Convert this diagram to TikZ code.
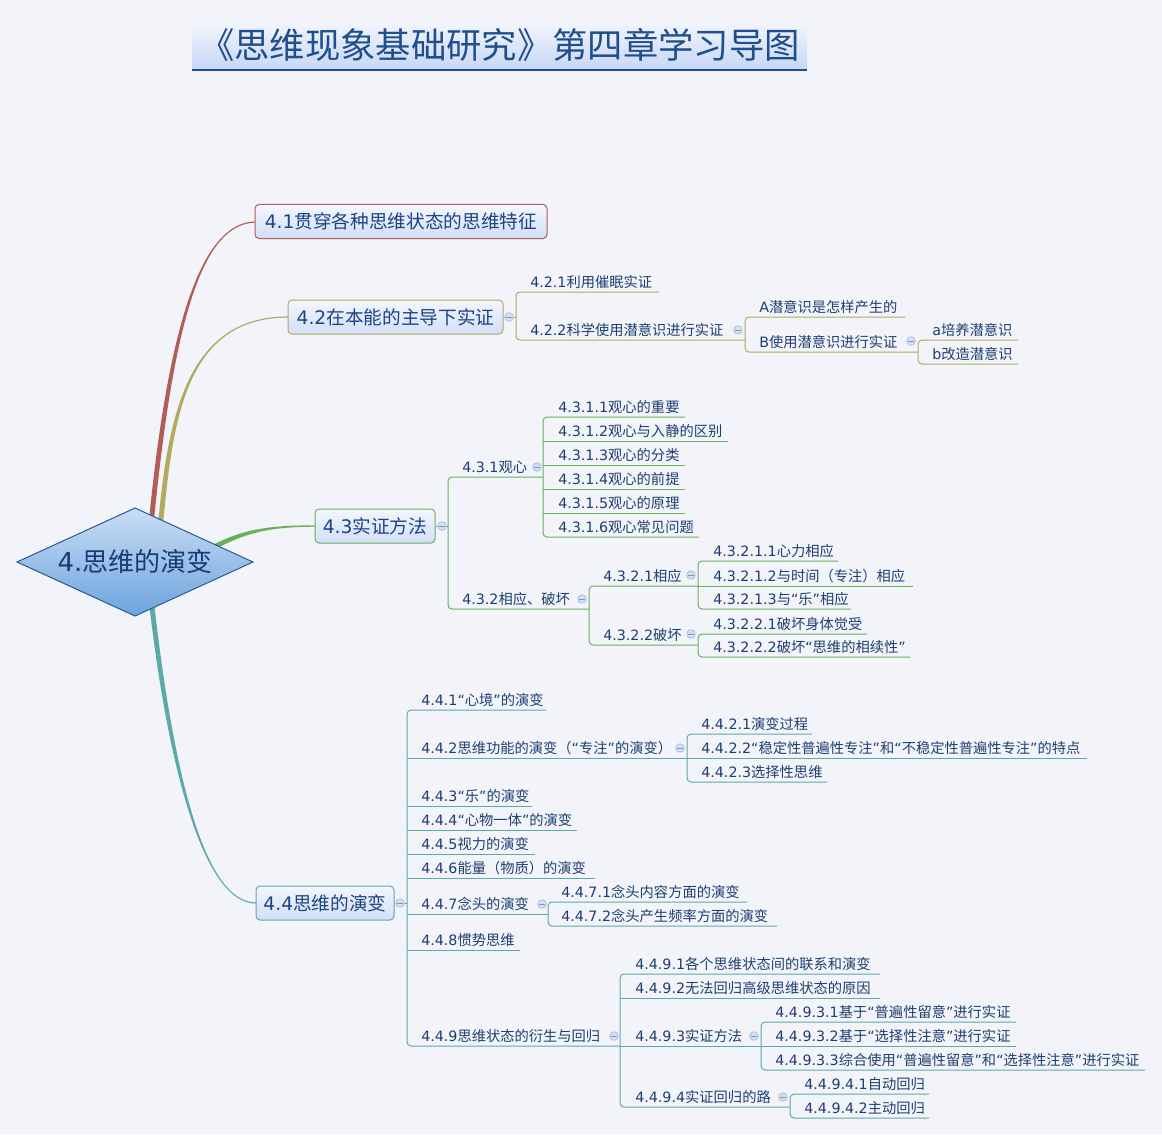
\documentclass[tikz,border=0pt]{standalone}
\usepackage{fontspec}
\setmainfont{DejaVu Sans}
\newfontfamily\latinfont{DejaVu Sans}
\newfontfamily\cjkfont{Noto Sans CJK SC}
\XeTeXinterchartokenstate=1
\newXeTeXintercharclass\CJKcls
\makeatletter
\count@="4E00
\loop \XeTeXcharclass\count@=\CJKcls \advance\count@ by 1 \ifnum\count@<"A000 \repeat
\count@="3000
\loop \XeTeXcharclass\count@=\CJKcls \advance\count@ by 1 \ifnum\count@<"3040 \repeat
\count@="FF00
\loop \XeTeXcharclass\count@=\CJKcls \advance\count@ by 1 \ifnum\count@<"FFF0 \repeat
\makeatother
\XeTeXinterchartoks 0 \CJKcls = {\cjkfont}
\XeTeXinterchartoks \CJKcls 0 = {\latinfont}
\XeTeXinterchartoks 4095 \CJKcls = {\cjkfont}
\XeTeXinterchartoks \CJKcls 4095 = {\latinfont}

\newcommand\subsz{\fontsize{10.7pt}{12pt}\selectfont}
\newcommand\mainsz{\fontsize{14pt}{16pt}\selectfont}
\newcommand\rootsz{\fontsize{19.5pt}{22pt}\selectfont}
\newcommand\titlesz{\fontsize{26.5pt}{30pt}\selectfont}

\definecolor{bg}{HTML}{F3F4FA}
\definecolor{txt}{HTML}{1D3F70}
\definecolor{mtxt}{HTML}{1C4482}
\definecolor{cred}{HTML}{B25D58}
\definecolor{colive}{HTML}{B2AA5E}
\definecolor{cgreen}{HTML}{68B05C}
\definecolor{cteal}{HTML}{5CAAA8}
\definecolor{boxtop}{HTML}{F3F6FD}
\definecolor{boxbot}{HTML}{D2DFF8}
\definecolor{icfill}{HTML}{D3DFF2}
\definecolor{icdraw}{HTML}{A5BCE0}
\definecolor{icminus}{HTML}{7F95BA}
\definecolor{dtop}{HTML}{CADDF4}
\definecolor{dbot}{HTML}{6CA4DE}
\definecolor{dline}{HTML}{2A5A94}
\definecolor{rtxt}{HTML}{163C72}
\definecolor{ttop}{HTML}{F4F6FC}
\definecolor{tbot}{HTML}{C7D7F6}
\definecolor{tline}{HTML}{1F4E8C}

\tikzset{
  sub/.style={anchor=base west, inner sep=0pt, font=\subsz, text=txt},
  mainbox/.style={draw=#1, line width=0.75pt, rounded corners=3pt, top color=boxtop, bottom color=boxbot, inner sep=0pt, font=\mainsz, text=mtxt, minimum height=25.5pt},
  collapse/.style={circle, draw=icdraw, fill=icfill, line width=0.5pt, minimum size=6.5pt, inner sep=0pt,
    path picture={\draw[icminus, line width=0.6pt] ([xshift=-1.9pt]path picture bounding box.center) -- ([xshift=1.9pt]path picture bounding box.center);}},
  tl/.style={draw=#1, line width=0.75pt, rounded corners=3pt},
}
\newcommand\subt[4]{\node[sub] (#1) at (#2,#3-4.5) {#4};}
\newcommand\cic[3]{\node[collapse] (#1) at (#2,#3) {};}

\begin{document}
\begin{tikzpicture}[x=0.75pt,y=-0.75pt]
\useasboundingbox (0,0) rectangle (1162,1134);
\fill[bg] (0,0) rectangle (1162,1134);

% title
\path[top color=ttop, bottom color=tbot] (192,20) rectangle (807,70);
\draw[tline, line width=1.1pt] (192,70) -- (807,70);
\node[font=\titlesz, text=tline, inner sep=0pt] (title) at (499.5,45) {《思维现象基础研究》第四章学习导图};

% main curves
\coordinate (s41) at (151,525);
\coordinate (s42) at (160,530);
\coordinate (s43) at (205,552);
\coordinate (s44) at (151,598);
\fill[cred] (148.5,525) .. controls (167.5,330) and (200,221.4) .. (256,221.4) -- (256,222.6) .. controls (200,222.6) and (172.5,330) .. (153.5,525) -- cycle;
\fill[colive] (157.5,530) .. controls (167.5,420) and (185,316.4) .. (288,316.4) -- (288,317.6) .. controls (185,317.6) and (172.5,420) .. (162.5,530) -- cycle;
\fill[cgreen] (203.8,549.8) .. controls (238.8,529.8) and (265,525.3) .. (316,525.3) -- (316,526.7) .. controls (265,526.7) and (241.2,534.2) .. (206.2,554.2) -- cycle;
\fill[cteal] (148.5,598) .. controls (165.5,750) and (200,903.6) .. (256,903.6) -- (256,902.4) .. controls (200,902.4) and (170.5,750) .. (153.5,598) -- cycle;

% root diamond
\path[draw=dline, line width=0.75pt, top color=dtop, bottom color=dbot] (17,562) -- (135,508) -- (253,562) -- (135,616) -- cycle;
\node[font=\rootsz, text=rtxt, inner sep=0pt] (root) at (135,562) {4.思维的演变};

% ===== 4.1
\node[mainbox=cred, minimum width=219pt] (b41) at (401,221.5) {4.1贯穿各种思维状态的思维特征};

% ===== 4.2
\node[mainbox=colive, minimum width=161.25pt] (b42) at (395.5,317) {4.2在本能的主导下实证};
\draw[tl=colive] (b42.east) -- (516,317);
\draw[tl=colive] (659,292) -- (516,292) -- (516,340) -- (745,340);
\draw[tl=colive] (905,317) -- (745,317) -- (745,352) -- (918,352);
\draw[tl=colive] (1018,340) -- (918,340) -- (918,364) -- (1018,364);
\subt{n421}{530}{292}{4.2.1利用催眠实证}
\subt{n422}{530}{340}{4.2.2科学使用潜意识进行实证}
\subt{nA}{759}{317}{A潜意识是怎样产生的}
\subt{nB}{759}{352}{B使用潜意识进行实证}
\subt{na}{932}{340}{a培养潜意识}
\subt{nb}{932}{364}{b改造潜意识}
\cic{i42}{509}{317}
\cic{i422}{738}{330}
\cic{iB}{911}{341}

% ===== 4.3
\node[mainbox=cgreen, minimum width=90pt] (b43) at (375,526) {4.3实证方法};
\draw[tl=cgreen] (b43.east) -- (448,526);
\draw[tl=cgreen] (543,477) -- (448,477) -- (448,609) -- (589,609);
\draw[tl=cgreen] (685,417) -- (543,417) -- (543,537) -- (699,537);
\draw[tl=cgreen] (543,441) -- (728,441);
\draw[tl=cgreen] (543,465) -- (685,465);
\draw[tl=cgreen] (543,489) -- (685,489);
\draw[tl=cgreen] (543,513) -- (685,513);
\draw[tl=cgreen] (698,586) -- (589,586) -- (589,645) -- (698,645);
\draw[tl=cgreen] (838,561) -- (698,561) -- (698,609) -- (851,609);
\draw[tl=cgreen] (698,586) -- (913,586);
\draw[tl=cgreen] (867,634) -- (698,634) -- (698,657) -- (910,657);
\subt{n431}{462}{477}{4.3.1观心}
\subt{n4311}{558}{417}{4.3.1.1观心的重要}
\subt{n4312}{558}{441}{4.3.1.2观心与入静的区别}
\subt{n4313}{558}{465}{4.3.1.3观心的分类}
\subt{n4314}{558}{489}{4.3.1.4观心的前提}
\subt{n4315}{558}{513}{4.3.1.5观心的原理}
\subt{n4316}{558}{537}{4.3.1.6观心常见问题}
\subt{n432}{462}{609}{4.3.2相应、破坏}
\subt{n4321}{603}{586}{4.3.2.1相应}
\subt{n4322}{603}{645}{4.3.2.2破坏}
\subt{n43211}{713}{561}{4.3.2.1.1心力相应}
\subt{n43212}{713}{586}{4.3.2.1.2与时间（专注）相应}
\subt{n43213}{713}{609}{4.3.2.1.3与“乐”相应}
\subt{n43221}{713}{634}{4.3.2.2.1破坏身体觉受}
\subt{n43222}{713}{657}{4.3.2.2.2破坏“思维的相续性”}
\cic{i43}{442}{526}
\cic{i431}{537}{467}
\cic{i432}{582}{599}
\cic{i4321}{691}{575}
\cic{i4322}{691}{634}

% ===== 4.4
\node[mainbox=cteal, minimum width=103.5pt] (b44) at (325,903) {4.4思维的演变};
\draw[tl=cteal] (b44.east) -- (407,903);
\draw[tl=cteal] (546,710) -- (407,710) -- (407,1046) -- (620,1046);
\draw[tl=cteal] (407,758) -- (687,758);
\draw[tl=cteal] (407,806) -- (532,806);
\draw[tl=cteal] (407,830) -- (577,830);
\draw[tl=cteal] (407,854) -- (535,854);
\draw[tl=cteal] (407,878) -- (595,878);
\draw[tl=cteal] (407,914) -- (548,914);
\draw[tl=cteal] (407,950) -- (520,950);
\draw[tl=cteal] (812,734) -- (687,734) -- (687,782) -- (827,782);
\draw[tl=cteal] (687,758) -- (1087,758);
\draw[tl=cteal] (747,902) -- (548,902) -- (548,926) -- (777,926);
\draw[tl=cteal] (880,974) -- (620,974) -- (620,1107) -- (790,1107);
\draw[tl=cteal] (620,998) -- (880,998);
\draw[tl=cteal] (620,1046) -- (761,1046);
\draw[tl=cteal] (1016,1022) -- (761,1022) -- (761,1070) -- (1145,1070);
\draw[tl=cteal] (761,1046) -- (1016,1046);
\draw[tl=cteal] (929,1094) -- (790,1094) -- (790,1118) -- (929,1118);
\subt{n441}{421}{710}{4.4.1“心境”的演变}
\subt{n442}{421}{758}{4.4.2思维功能的演变（“专注”的演变）}
\subt{n4421}{701}{734}{4.4.2.1演变过程}
\subt{n4422}{701}{758}{4.4.2.2“稳定性普遍性专注”和“不稳定性普遍性专注”的特点}
\subt{n4423}{701}{782}{4.4.2.3选择性思维}
\subt{n443}{421}{806}{4.4.3“乐”的演变}
\subt{n444}{421}{830}{4.4.4“心物一体”的演变}
\subt{n445}{421}{854}{4.4.5视力的演变}
\subt{n446}{421}{878}{4.4.6能量（物质）的演变}
\subt{n447}{421}{914}{4.4.7念头的演变}
\subt{n4471}{561}{902}{4.4.7.1念头内容方面的演变}
\subt{n4472}{561}{926}{4.4.7.2念头产生频率方面的演变}
\subt{n448}{421}{950}{4.4.8惯势思维}
\subt{n449}{421}{1046}{4.4.9思维状态的衍生与回归}
\subt{n4491}{635}{974}{4.4.9.1各个思维状态间的联系和演变}
\subt{n4492}{635}{998}{4.4.9.2无法回归高级思维状态的原因}
\subt{n4493}{635}{1046}{4.4.9.3实证方法}
\subt{n44931}{775}{1022}{4.4.9.3.1基于“普遍性留意”进行实证}
\subt{n44932}{775}{1046}{4.4.9.3.2基于“选择性注意”进行实证}
\subt{n44933}{775}{1070}{4.4.9.3.3综合使用“普遍性留意”和“选择性注意”进行实证}
\subt{n4494}{635}{1107}{4.4.9.4实证回归的路}
\subt{n44941}{804}{1094}{4.4.9.4.1自动回归}
\subt{n44942}{804}{1118}{4.4.9.4.2主动回归}
\cic{i44}{400}{903}
\cic{i442}{680}{748}
\cic{i447}{542}{904}
\cic{i449}{614}{1036}
\cic{i4493}{754}{1036}
\cic{i4494}{783}{1097}
\end{tikzpicture}
\end{document}
